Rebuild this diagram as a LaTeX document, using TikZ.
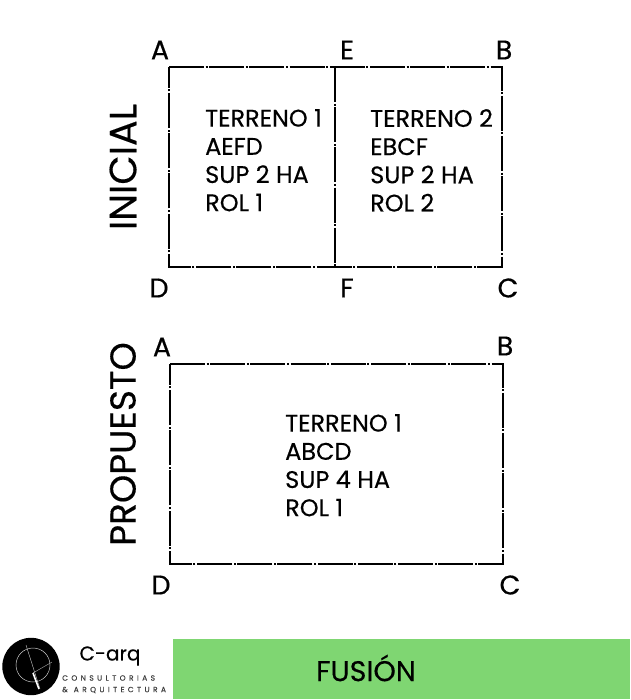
\documentclass[tikz,border=0pt]{standalone}
\usepackage{fontspec}
\setmainfont[FakeBold=0.35]{Poppins}
\definecolor{fusiongreen}{HTML}{7FD672}
\tikzset{
 plot line/.style={draw=black,line width=1.5pt,dash pattern=on 35pt off 1.6pt on 2pt off 1.6pt},
 corner/.style={font=\fontsize{27}{27}\selectfont,inner sep=0pt,anchor=center},
 block/.style={font=\fontsize{24}{28.2}\selectfont,inner sep=0pt,align=left,anchor=north west},
 side/.style={inner sep=0pt,rotate=90,anchor=center},
}
\begin{document}
\begin{tikzpicture}[x=1pt,y=-1pt]
\useasboundingbox (0,0) rectangle (630,700);
\fill[white] (0,0) rectangle (630,700);
% top plot
\coordinate (tA) at (169,67); \coordinate (tE) at (335,67); \coordinate (tB) at (502,67);
\coordinate (tD) at (169,267); \coordinate (tF) at (335,267); \coordinate (tC) at (502,267);
\draw[plot line] (tA) -- (tB) -- (tC) -- (tD) -- cycle;
\draw[plot line] (tE) -- (tF);
\node[corner] (la) at (160,50) {A};
\node[corner] (le) at (347,50) {E};
\node[corner] (lb) at (504,50) {B};
\node[corner] (ld) at (159,288) {D};
\node[corner] (lf) at (347,288) {F};
\node[corner] (lc) at (508,288) {C};
\node[block] (t1) at (205,109) {TERRENO 1\\AEFD\\SUP 2 HA\\ROL 1};
\node[block] (t2) at (370,109) {TERRENO 2\\EBCF\\SUP 2 HA\\ROL 2};
\node[side,font=\fontsize{38}{38}\selectfont] (ini) at (123,167) {INICIAL};
% bottom plot
\coordinate (bA) at (170,364); \coordinate (bB) at (503,364);
\coordinate (bC) at (503,564); \coordinate (bD) at (170,564);
\draw[plot line] (bA) -- (bB) -- (bC) -- (bD) -- cycle;
\node[corner] (pa) at (162,347) {A};
\node[corner] (pb) at (505,346) {B};
\node[corner] (pd) at (161,585) {D};
\node[corner] (pc) at (510,585) {C};
\node[block] (t3) at (285,414) {TERRENO 1\\ABCD\\SUP 4 HA\\ROL 1};
\node[side,font=\fontsize{36}{36}\selectfont] (pro) at (123,444) {PROPUESTO};
% footer
\fill[fusiongreen] (173,638.5) rectangle (630,699);
\node[font=\fontsize{28.5}{28.5}\selectfont,inner sep=0pt] (fus) at (366,668) {FUSIÓN};
% logo
\fill[black] (31,666.5) circle (28.7);
\draw[white!80!black,line width=0.5pt] (33,665) circle (17);
\draw[white!80!black,line width=0.4pt] (26,645) -- (40,689);
\draw[white,line width=1.6pt] (33,673) -- (39,689);
\draw[white!70!black,line width=0.4pt] (33,673) -- (52,662);
\node[font=\fontsize{20}{20}\selectfont,inner sep=0pt] (carq) at (110,656) {C-arq};
\node[font=\fontsize{7.5}{7.5}\selectfont,inner sep=0pt,anchor=west,text=black!75] (c1) at (62,678) {C\kern3.4pt O\kern3.4pt N\kern3.4pt S\kern3.4pt U\kern3.4pt L\kern3.4pt T\kern3.4pt O\kern3.4pt R\kern3.4pt I\kern3.4pt A\kern3.4pt S};
\node[font=\fontsize{7.5}{7.5}\selectfont,inner sep=0pt,anchor=west,text=black!75] (c2) at (62,690) {\&\kern6pt A\kern3.4pt R\kern3.4pt Q\kern3.4pt U\kern3.4pt I\kern3.4pt T\kern3.4pt E\kern3.4pt C\kern3.4pt T\kern3.4pt U\kern3.4pt R\kern3.4pt A};
\end{tikzpicture}
\end{document}
